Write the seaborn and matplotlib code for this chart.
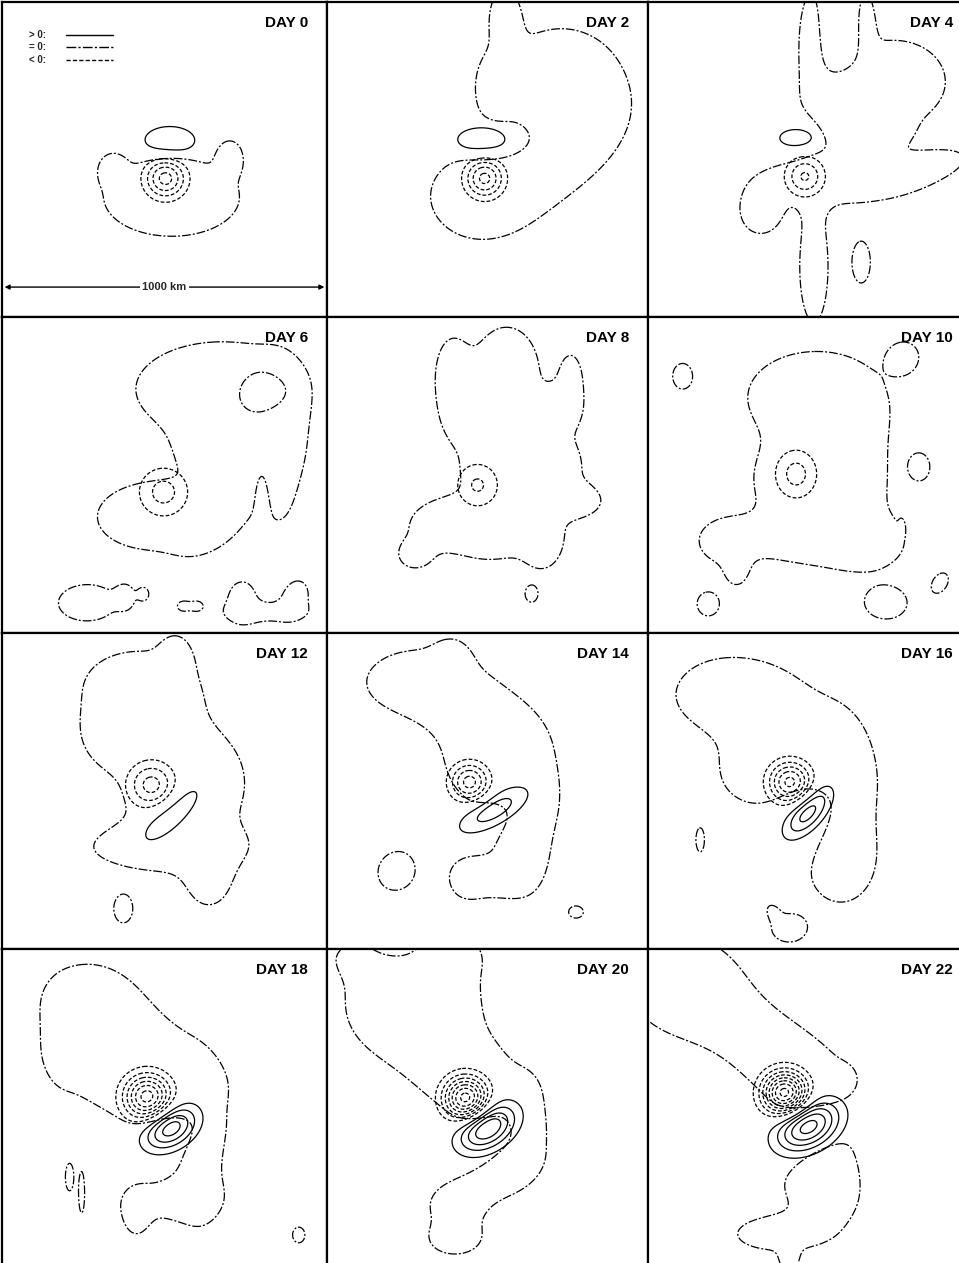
import numpy as np
import matplotlib
matplotlib.use("Agg")
import matplotlib.pyplot as plt
import seaborn as sns

# ---------------- data (percent-of-panel units, y measured downward) ----------------
DAYS = ["DAY 0", "DAY 2", "DAY 4", "DAY 6", "DAY 8", "DAY 10",
        "DAY 12", "DAY 14", "DAY 16", "DAY 18", "DAY 20", "DAY 22"]

# eddy features: (x, y, sx, sy, angle_deg, amplitude in contour intervals)
EDDY_D0 = [(50.3, 56.0, 4.4, 4.4, 0, -4.4), (51.6, 44.0, 6.6, 3.8, 0, 2.0)]
EDDY_D2 = [(49.1, 56.0, 4.2, 4.3, 0, -4.3), (48.1, 43.7, 6.3, 3.2, 0, 2.0)]
EDDY_D4 = [(48.4, 55.4, 4.2, 4.3, 0, -3.13), (45.6, 43.2, 4.2, 2.3, 0, 2.0)]
EDDY_D6 = [(49.7, 55.4, 5.6, 5.7, 0, -2.4)]
EDDY_D8 = [(46.9, 53.2, 5.0, 5.3, 0, -2.14)]
EDDY_D10 = [(45.7, 49.7, 4.8, 5.7, 0, -2.4)]
EDDY_D12 = [(46.0, 48.1, 5.1, 5.1, 0, -3.4), (52.2, 57.3, 9.6, 3.4, 45, 1.9)]
EDDY_D14 = [(44.4, 47.2, 4.2, 4.2, 0, -4.42), (51.9, 56.0, 8.7, 3.4, 30, 2.6)]
EDDY_D16 = [(43.8, 47.2, 4.5, 4.5, 0, -5.3), (49.4, 56.6, 6.8, 3.2, 50, 3.6)]
EDDY_D18 = [(44.7, 46.8, 5.0, 5.0, 0, -6.5), (51.8, 56.5, 6.2, 4.2, 33, 4.8)]
EDDY_D20 = [(43.2, 47.2, 4.7, 4.7, 0, -7.5), (49.9, 56.5, 6.8, 4.4, 33, 5.2)]
EDDY_D22 = [(42.2, 45.6, 4.7, 4.7, 0, -8.5), (49.3, 56.0, 7.2, 4.8, 30, 5.6)]

# zero-line regions: (x, y, sx, sy, angle_deg, weight)
ZERO_D0 = [(52.2, 62.0, 17.7, 10.5, 0, 1), (34.0, 53.0, 2.5, 3.0, 0, 1), (70.2, 49.1, 2.5, 3.5, 0, 1)]
ZERO_D2 = [(73.0, 28.5, 17.0, 17.0, 0, 1), (55.3, 4.7, 3.2, 6.6, 0, 1), (52.8, 26.9, 3.7, 6.6, 0, 1),
           (46.6, 61.7, 11.9, 10.1, 0, 1), (68.3, 52.2, 14.6, 7.4, 40, 1), (54.3, 44.3, 8.0, 4.0, 0, -1)]
ZERO_D4 = [(59.0, 56.3, 19.9, 6.4, 0, 1), (76.1, 25.3, 13.3, 11.1, 0, 1), (67.1, 6.3, 2.1, 7.4, 0, 1),
           (50.6, 12.7, 3.2, 13.3, 0, 1), (57.5, 34.8, 5.8, 6.6, 0, 1), (59.0, 11.0, 4.0, 9.3, 0, -1),
           (62.1, 31.6, 6.6, 7.4, 0, 1), (69.9, 41.1, 6.6, 4.0, 0, 1),
           (51.2, 84.0, 3.7, 15.0, 0, 1), (34.8, 67.1, 4.8, 5.3, 0, 1), (85.0, 52.5, 9.3, 3.0, 15, 1),
           (45.7, 41.1, 6.6, 4.0, 0, -1), (65.8, 82.6, 2.4, 5.6, 0, 1)]
ZERO_D6 = [(67.7, 22.8, 22.5, 12.7, 0, 1), (85.4, 44.3, 4.8, 15.9, 0, 1), (71.4, 42.7, 10.6, 6.6, 0, 1),
           (46.6, 63.3, 14.6, 8.8, 0, 1), (66.8, 63.3, 9.3, 4.8, 45, 1), (80.5, 24.5, 5.0, 4.4, 0, -1.5),
           (80.1, 58.5, 1.3, 8.0, 0, -1),
           (26.1, 90.5, 7.4, 4.8, 0, 1), (37.9, 88.6, 2.1, 2.7, 0, 1), (43.5, 87.7, 1.3, 1.6, 0, 1),
           (55.9, 91.5, 1.6, 1.3, 0, 1), (59.9, 91.5, 1.6, 1.3, 0, 1), (73.9, 90.2, 3.7, 5.3, 0, 1),
           (81.4, 93.4, 8.0, 2.1, 0, 1), (90.1, 89.2, 3.2, 4.8, -20, 1)]
ZERO_D8 = [(60.6, 47.5, 15.9, 13.3, 0, 1), (55.9, 15.8, 8.0, 10.6, 0, 1), (38.8, 19.0, 4.0, 9.3, 0, 1),
           (43.5, 30.0, 4.0, 5.3, 0, 1), (76.1, 20.6, 2.7, 6.6, 0, 1), (72.0, 28.0, 4.0, 4.0, 0, 1),
           (76.1, 58.5, 5.8, 3.2, 0, 1),
           (35.7, 66.5, 8.0, 5.8, 0, 1), (27.3, 75.3, 3.7, 3.2, 0, 1), (66.8, 71.2, 4.8, 6.6, 0, 1),
           (51.2, 71.2, 6.6, 4.0, 0, 1), (63.7, 87.7, 1.6, 2.1, 0, 1)]
ZERO_D10 = [(51.2, 25.3, 17.2, 11.9, 0, 1), (60.6, 53.8, 10.6, 15.9, 0, 1), (45.0, 52.2, 9.3, 8.0, 0, 1),
            (46.6, 69.6, 15.9, 5.8, 0, 1), (24.2, 71.2, 5.8, 4.8, 0, 1), (27.3, 79.7, 2.7, 4.0, 0, 1),
            (68.3, 72.2, 6.6, 4.8, 0, 1),
            (10.6, 18.7, 2.4, 3.2, 0, 1), (78.9, 12.7, 3.4, 3.6, -30, 1), (83.9, 47.5, 2.4, 3.2, 0, 1),
            (78.3, 66.8, 0.6, 1.6, 0, 1), (18.6, 90.8, 2.9, 3.2, 0, 1), (73.6, 90.5, 5.3, 4.2, 0, 1),
            (90.1, 84.2, 1.9, 2.9, -30, 1)]
ZERO_D12 = [(41.9, 16.5, 13.3, 8.8, 0, 1), (53.4, 7.9, 3.2, 4.8, 0, 1), (55.9, 47.5, 15.9, 15.9, 0, 1),
            (34.2, 31.6, 6.6, 6.6, 0, 1), (49.7, 68.0, 15.9, 4.8, 0, 1), (63.7, 75.9, 5.3, 8.0, 0, 1),
            (37.3, 87.3, 2.4, 3.7, 0, 1)]
ZERO_D14 = [(28.0, 15.8, 12.7, 7.4, 0, 1), (38.8, 8.9, 4.0, 4.8, 0, 1), (43.5, 23.7, 13.3, 6.6, -30, 1),
            (52.8, 39.6, 13.3, 13.3, 0, 1), (63.7, 52.2, 4.8, 6.6, 0, 1), (61.2, 68.0, 6.6, 12.0, 0, 1),
            (43.5, 77.5, 4.0, 4.8, 0, 1), (51.2, 77.5, 5.8, 4.0, 0, 1), (48.5, 61.0, 8.5, 3.2, 30, -1),
            (21.7, 75.3, 5.3, 4.8, 60, 1), (77.6, 88.3, 1.9, 1.6, 0, 1)]
ZERO_D16 = [(26.4, 20.0, 13.3, 8.0, 0, 1), (43.5, 31.6, 18.6, 9.3, -35, 1), (59.0, 47.5, 7.4, 15.9, 0, 1),
            (34.2, 44.3, 9.3, 8.0, 0, 1), (59.6, 72.2, 8.0, 10.1, 0, 1), (46.6, 61.7, 12.0, 5.3, 50, -1.5),
            (16.1, 65.5, 1.1, 3.2, 0, 1), (43.5, 93.4, 4.5, 3.7, 0, 1), (38.8, 88.6, 1.3, 2.1, 30, 1),
            (16.1, 101.9, 2.1, 1.6, 0, 1), (-1.6, 96.5, 1.3, 4.0, 0, 1)]
ZERO_D18 = [(26.0, 17.4, 10.6, 9.3, 0, 1), (44.5, 30.5, 15.9, 8.0, -40, 1), (18.5, 30.0, 3.5, 8.0, 0, 1),
            (27.0, 39.6, 9.3, 5.3, -30, 1), (50.5, 47.5, 12.0, 9.3, 0, 1), (61.0, 63.3, 5.3, 17.2, 0, 1),
            (52.8, 79.1, 9.3, 4.8, 0, 1), (41.3, 82.9, 3.2, 5.8, 0, 1), (49.7, 60.8, 10.6, 4.0, 35, -1.5),
            (20.8, 72.2, 1.1, 3.7, 0, 1), (24.5, 76.9, 0.8, 5.6, 0, 1), (91.3, 90.5, 1.6, 2.1, 0, 1)]
ZERO_D20 = [(23.3, 17.4, 14.6, 13.3, 0, 1), (24.8, 1.6, 14.6, 5.3, 0, 1), (23.0, 0.0, 7.4, 4.0, 0, -1.2),
            (43.5, 39.6, 14.6, 10.1, -40, 1), (37.3, 12.7, 5.8, 10.6, 0, 1), (55.9, 61.7, 8.5, 10.6, 0, 1),
            (62.1, 50.6, 4.0, 6.6, 0, 1),
            (40.4, 80.7, 6.6, 6.6, 0, 1), (39.8, 91.8, 5.8, 3.7, 0, 1), (48.1, 61.7, 12.0, 4.8, 35, -1.5),
            (49.7, 72.8, 9.3, 4.0, 20, 1)]
ZERO_D22 = [(10.9, 11.1, 13.3, 11.9, 0, 1), (34.2, 28.5, 19.9, 8.0, -35, 1), (48.1, 41.1, 12.0, 6.6, -35, 1),
            (59.6, 41.1, 2.7, 2.7, 0, 1), (52.8, 71.2, 10.1, 14.6, 20, 1), (38.8, 90.2, 9.3, 4.0, 0, 1),
            (43.5, 98.1, 2.1, 3.2, 0, 1), (46.6, 58.5, 12.0, 4.8, 30, -1.5)]

EDDIES = [EDDY_D0, EDDY_D2, EDDY_D4, EDDY_D6, EDDY_D8, EDDY_D10,
          EDDY_D12, EDDY_D14, EDDY_D16, EDDY_D18, EDDY_D20, EDDY_D22]
ZEROS = [ZERO_D0, ZERO_D2, ZERO_D4, ZERO_D6, ZERO_D8, ZERO_D10,
         ZERO_D12, ZERO_D14, ZERO_D16, ZERO_D18, ZERO_D20, ZERO_D22]

LEGEND_LABELS = ["> 0:", "= 0:", "< 0:"]
SCALE_LABEL = "1000 km"

# ---------------- styling ----------------
sns.set_theme(style="white")
plt.rcParams["font.family"] = ["Liberation Sans", "DejaVu Sans"]

POS_STYLE = "solid"
ZERO_STYLE = (0, (7, 1.6, 1.6, 1.6))
NEG_STYLE = (0, (3.0, 1.6))
LW = 0.9

W, H = 959, 1263
fig = plt.figure(figsize=(W / 100, H / 100), dpi=100)
fig.patch.set_facecolor("white")

col_left = [2, 327, 648]
col_width = [325, 321, 324]
row_top = [2, 317, 633, 949]
row_height = [315, 316, 316, 316]

u = np.linspace(-5, 105, 450)
v = np.linspace(-5, 105, 450)
U, V = np.meshgrid(u, v)


def field(blobs):
    Z = np.zeros_like(U)
    for x, y, sx, sy, ang, a in blobs:
        t = np.radians(ang)
        dx, dv = U - x, V - y
        al = dx * np.cos(t) - dv * np.sin(t)
        cr = dx * np.sin(t) + dv * np.cos(t)
        Z += a * np.exp(-0.5 * ((al / sx) ** 2 + (cr / sy) ** 2))
    return Z


for i, day in enumerate(DAYS):
    r, c = divmod(i, 3)
    l, w = col_left[c], col_width[c]
    t, h = row_top[r], row_height[r]
    ax = fig.add_axes([l / W, 1 - (t + h) / H, w / W, h / H])
    ax.set_xlim(0, 100)
    ax.set_ylim(100, 0)
    ax.set_xticks([])
    ax.set_yticks([])
    for s in ax.spines.values():
        s.set_linewidth(1.6)
        s.set_color("black")

    Zz = field(ZEROS[i]) - 0.5
    ax.contour(U, V, Zz, levels=[0], colors="black", linewidths=LW, linestyles=[ZERO_STYLE])

    Ze = field(EDDIES[i])
    neg = [-k for k in range(9, 0, -1)]
    pos = list(range(1, 10))
    if Ze.min() < -1:
        ax.contour(U, V, Ze, levels=neg, colors="black", linewidths=LW, linestyles=[NEG_STYLE])
    if Ze.max() > 1:
        ax.contour(U, V, Ze, levels=pos, colors="black", linewidths=LW, linestyles=POS_STYLE)

    ax.text(100 - 19 / w * 100, 4.5, day, ha="right", va="top", fontsize=11,
            fontweight="bold", color="black")

    if i == 0:
        ys = [10.4, 14.2, 18.4]
        styles = [POS_STYLE, ZERO_STYLE, NEG_STYLE]
        for lab, yy, st in zip(LEGEND_LABELS, ys, styles):
            ax.text(8.4, yy, lab, ha="left", va="center", fontsize=7, fontweight="bold")
            ax.plot([19.6, 34.2], [yy, yy], color="black", lw=1.0, linestyle=st)
        ax.annotate("", xy=(0.8, 90.5), xytext=(99.2, 90.5),
                    arrowprops=dict(arrowstyle="<|-|>", lw=1.0, color="black",
                                    mutation_scale=7, shrinkA=0, shrinkB=0))
        ax.text(50, 90.5, SCALE_LABEL, ha="center", va="center", fontsize=8,
                fontweight="bold", bbox=dict(facecolor="white", edgecolor="none", pad=1.5))

fig.savefig("out.png", dpi=100, facecolor="white")
